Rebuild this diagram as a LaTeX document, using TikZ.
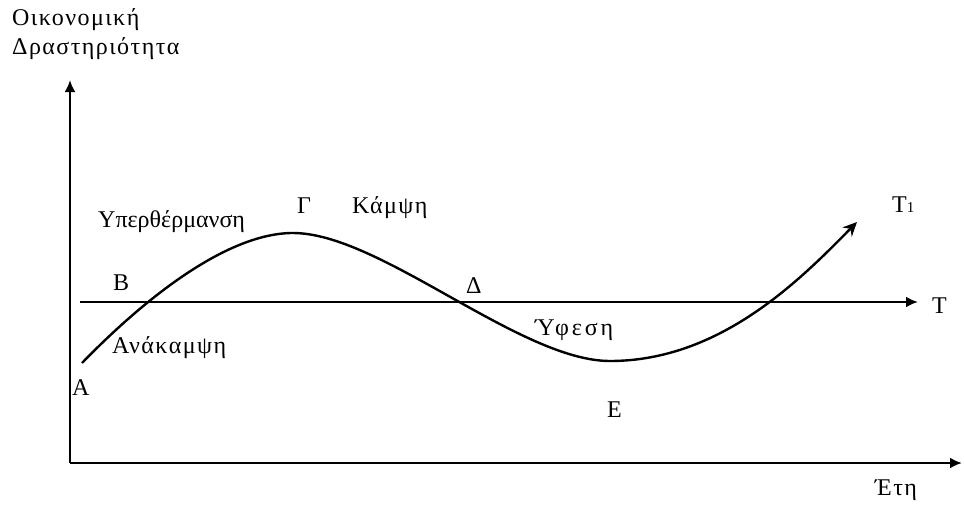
\documentclass[tikz,border=0pt]{standalone}
\usepackage{fontspec}
\setmainfont{Liberation Serif}
\newfontfamily\widefont[LetterSpace=6]{Liberation Serif}
\newfontfamily\widerfont[LetterSpace=12]{Liberation Serif}
\usetikzlibrary{arrows.meta}
\begin{document}
\begin{tikzpicture}[x=1pt,y=-1pt,
  lbl/.style={inner sep=0pt,anchor=base west,font=\widefont\fontsize{24}{26}\selectfont},
  axis/.style={line width=2.8pt,-{Latex[length=12pt,width=11pt]}},
  curve/.style={line width=2.4pt,-{Stealth[length=14pt,width=13pt]}}]
\useasboundingbox (0,0) rectangle (964,506);
\coordinate (O) at (70,463);
\coordinate (Ytip) at (70,80);
\coordinate (Xtip) at (962,463);
\coordinate (Ts) at (80,302);
\coordinate (Te) at (918,302);
\coordinate (A) at (82,363);
\coordinate (G) at (293,233);
\coordinate (E) at (610,361);
\coordinate (T1) at (857,222);
\draw[axis] (O) -- (Ytip);
\draw[axis] (O) -- (Xtip);
\draw[axis] (Ts) -- (Te);
\draw[curve] (A) .. controls (150,293) and (230,233) .. (G)
  .. controls (380,233) and (520,361) .. (E)
  .. controls (720,361) and (800,280) .. (T1);
\node[lbl] (ylab1) at (12,25) {Οικονομική};
\node[lbl] (ylab2) at (12,54) {Δραστηριότητα};
\node[lbl,font=\fontsize{24}{26}\selectfont] (lY) at (98,227) {Υπερθέρμανση};
\node[lbl] (lG) at (297,213) {Γ};
\node[lbl] (lK) at (352,213) {Κάμψη};
\node[lbl] (lB) at (113,290) {Β};
\node[lbl] (lAn) at (112,353) {Ανάκαμψη};
\node[lbl] (lA) at (72,395) {Α};
\node[lbl] (lD) at (466,293) {Δ};
\node[lbl,font=\widerfont\fontsize{24}{26}\selectfont] (lF) at (535,335) {Ύφεση};
\node[lbl] (lE) at (607,417) {Ε};
\node[lbl] (lT) at (932,313) {Τ};
\node[lbl] (lT1) at (892,212) {Τ{\fontsize{15}{16}\selectfont 1}};
\node[lbl] (lEt) at (875,495) {Έτη};
\end{tikzpicture}
\end{document}
